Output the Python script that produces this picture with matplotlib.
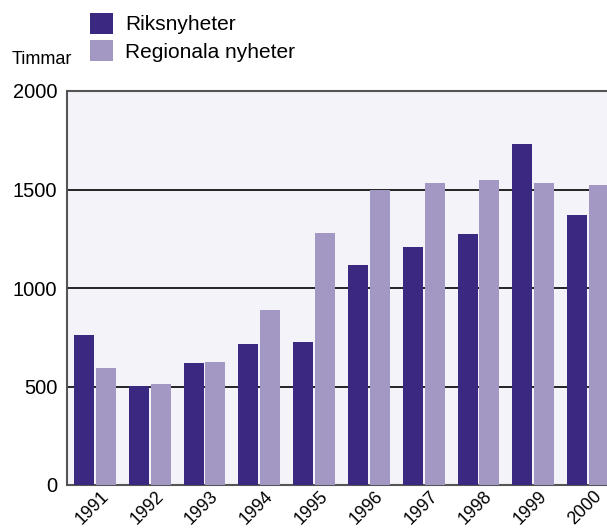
import matplotlib.pyplot as plt
import numpy as np

plt.rcParams['font.family'] = ['Liberation Sans', 'DejaVu Sans']

years = ['1991', '1992', '1993', '1994', '1995', '1996', '1997', '1998', '1999', '2000']
riks = [761, 502, 619, 716, 726, 1117, 1208, 1274, 1731, 1370]
regionala = [594, 513, 624, 888, 1279, 1497, 1533, 1548, 1533, 1523]

dark = '#3b2880'
light = '#a397c4'

fig = plt.figure(figsize=(6.07, 5.32), dpi=100)
ax = fig.add_axes([67 / 607, 1 - 485 / 532, 548.5 / 607, 394 / 532])
ax.set_facecolor('#f4f3f9')

x = np.arange(len(years))
w = 0.365
ax.bar(x - 0.2, riks, w, color=dark, label='Riksnyheter', zorder=3)
ax.bar(x + 0.2, regionala, w, color=light, label='Regionala nyheter', zorder=3)

ax.set_xlim(-0.51, 9.5)
ax.set_ylim(0, 2000)
ax.set_yticks([0, 500, 1000, 1500, 2000])
ax.set_yticklabels(['0', '500', '1000', '1500', '2000'], fontsize=14.5)
ax.set_xticks(x - 0.05)
ax.set_xticklabels(years, fontsize=12.8, rotation=45, ha='center')
ax.tick_params(axis='both', length=0)
ax.tick_params(axis='y', pad=7)
ax.tick_params(axis='x', pad=2)
ax.yaxis.grid(True, color='black', linewidth=1.2, zorder=1)

for s in ['left', 'bottom', 'top']:
    ax.spines[s].set_color('#555555')
    ax.spines[s].set_linewidth(1.5)
ax.spines['right'].set_visible(False)

fig.legend(loc='upper left', bbox_to_anchor=(90 / 607, 1 - 13 / 532),
           frameon=False, fontsize=15, borderpad=0, borderaxespad=0,
           handlelength=1.1, handleheight=1.15, handletextpad=0.58,
           labelspacing=0.29)

fig.text(12 / 607, 1 - 64 / 532, 'Timmar', fontsize=13, va='baseline')

plt.savefig('out.png')
